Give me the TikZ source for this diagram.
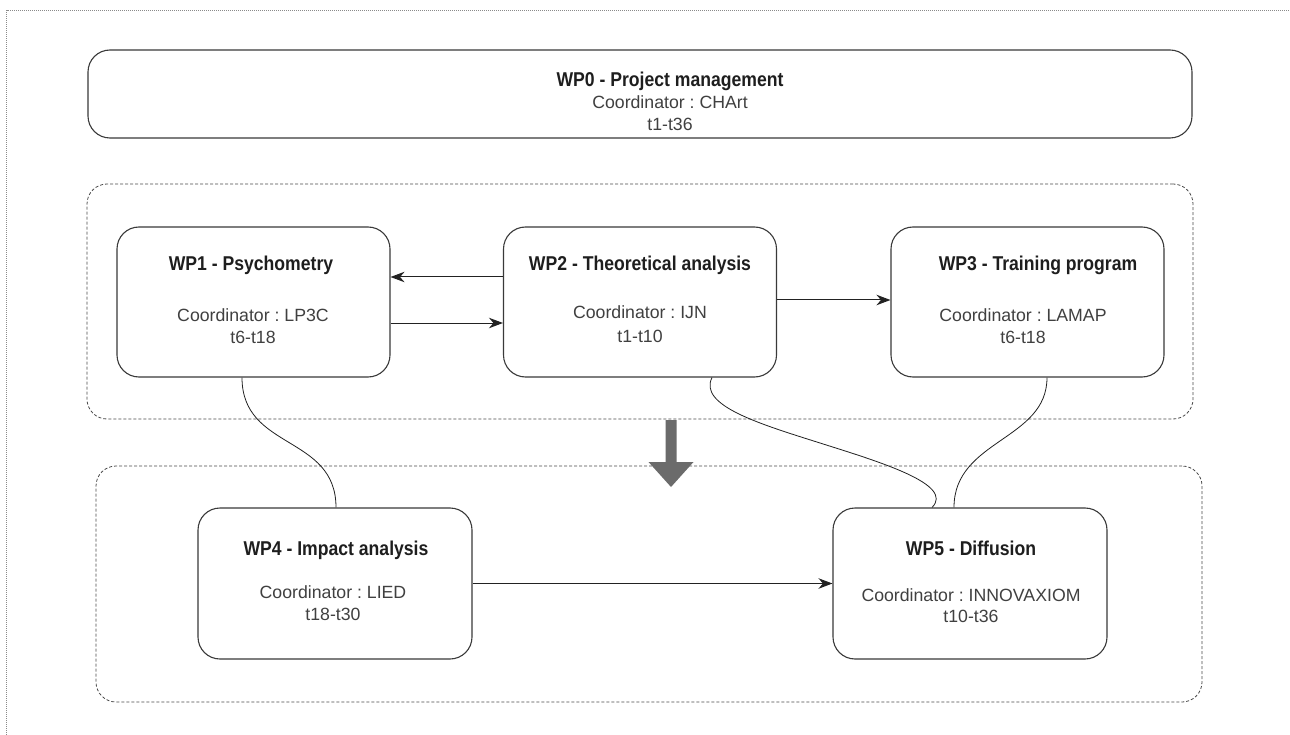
\documentclass[tikz,border=0pt]{standalone}
\usepackage{fontspec}
\setmainfont{Liberation Sans}
\newfontfamily\titlefont[FakeStretch=0.88]{Liberation Sans}
\usetikzlibrary{arrows.meta}
\definecolor{boxline}{HTML}{3A3A3A}
\definecolor{grpline}{HTML}{4A4A4A}
\definecolor{frameline}{HTML}{8A8A8A}
\definecolor{titlecol}{HTML}{1E1E1E}
\definecolor{bodycol}{HTML}{404040}
\definecolor{bigarrow}{HTML}{6B6B6B}
\definecolor{conn}{HTML}{222222}
\tikzset{
  wpbox/.style={draw=boxline, line width=1.1pt, rounded corners=22pt, rectangle, inner sep=0pt},
  grp/.style={draw=grpline, line width=0.8pt, dash pattern=on 3pt off 2pt, rounded corners=20pt, rectangle, inner sep=0pt},
  ttl/.style={anchor=base, inner sep=0pt, text=titlecol, font=\frenchspacing\titlefont\bfseries\fontsize{20}{22}\selectfont},
  body/.style={anchor=base, inner sep=0pt, text=bodycol, font=\frenchspacing\fontsize{17.7}{21}\selectfont},
  arr/.style={draw=conn, line width=1pt, -{Stealth[length=14pt,width=10.5pt,inset=4.5pt]}},
  link/.style={draw=conn, line width=0.8pt},
  frame/.style={draw=frameline, line width=0.8pt, dash pattern=on 1pt off 1pt}
}
\begin{document}
\begin{tikzpicture}[x=1pt,y=-1pt]
\useasboundingbox (0,0) rectangle (1290,735);
\fill[white] (0,0) rectangle (1290,735);
\draw[frame] (6.5,735) -- (6.5,10.5) -- (1290,10.5);

% WP0
\node[wpbox, minimum width=1104pt, minimum height=88pt] (wp0) at (640,94) {};
\node[ttl] (wp0t) at (670,87) {WP0 - Project management};
\node[body] (wp0c) at (670,109) {Coordinator : CHArt};
\node[body] (wp0d) at (670,131) {t1-t36};

% groups
\node[grp, minimum width=1106pt, minimum height=235pt] (grpA) at (640,301.5) {};
\node[grp, minimum width=1106pt, minimum height=236pt] (grpB) at (649,584) {};

% WP boxes
\node[wpbox, minimum width=273pt, minimum height=150pt] (wp1) at (253.5,302) {};
\node[wpbox, minimum width=273pt, minimum height=150pt] (wp2) at (640,302) {};
\node[wpbox, minimum width=273pt, minimum height=150pt] (wp3) at (1027.5,302) {};
\node[wpbox, minimum width=274pt, minimum height=151pt] (wp4) at (335,583.5) {};
\node[wpbox, minimum width=274pt, minimum height=151pt] (wp5) at (970,583.5) {};

% texts
\node[ttl] (wp1t) at (251,271) {WP1 - Psychometry};
\node[body] (wp1c) at (253,321) {Coordinator : LP3C};
\node[body] (wp1d) at (253,343) {t6-t18};

\node[ttl] (wp2t) at (640,271) {WP2 - Theoretical analysis};
\node[body] (wp2c) at (640,319) {Coordinator : IJN};
\node[body] (wp2d) at (640,342) {t1-t10};

\node[ttl] (wp3t) at (1038,271) {WP3 - Training program};
\node[body] (wp3c) at (1023,321) {Coordinator : LAMAP};
\node[body] (wp3d) at (1023,343) {t6-t18};

\node[ttl] (wp4t) at (336,555) {WP4 - Impact analysis};
\node[body] (wp4c) at (333,598) {Coordinator : LIED};
\node[body] (wp4d) at (333,620) {t18-t30};

\node[ttl] (wp5t) at (971,555) {WP5 - Diffusion};
\node[body] (wp5c) at (971,601) {Coordinator : INNOVAXIOM};
\node[body] (wp5d) at (971,622) {t10-t36};

% arrows
\draw[arr] ([yshift=25pt]wp2.west) -- ([yshift=25pt]wp1.east);
\draw[arr] ([yshift=-21pt]wp1.east) -- ([yshift=-21pt]wp2.west);
\draw[arr] ([yshift=2pt]wp2.east) -- ([yshift=2pt]wp3.west);
\draw[arr] (wp4.east) -- (wp5.west);

% curved links
\draw[link] ([xshift=-11.5pt]wp1.south) .. controls +(0,73) and +(0,-73) .. ([xshift=1pt]wp4.north);
\draw[link] ([xshift=19.5pt]wp3.south) .. controls +(0,63) and +(0,-68) .. ([xshift=-16pt]wp5.north);
\coordinate (m25) at (820,443);
\draw[link] ([xshift=72pt]wp2.south) .. controls +(-14,28) and +(-60,-19) .. (m25)
  .. controls +(60,19) and +(23,-23) .. ([xshift=-38pt]wp5.north);

% big arrow between groups
\fill[bigarrow] (665.5,420) -- (676.5,420) -- (676.5,462) -- (693.5,462) -- (671,487) -- (648.5,462) -- (665.5,462) -- cycle;
\end{tikzpicture}
\end{document}
